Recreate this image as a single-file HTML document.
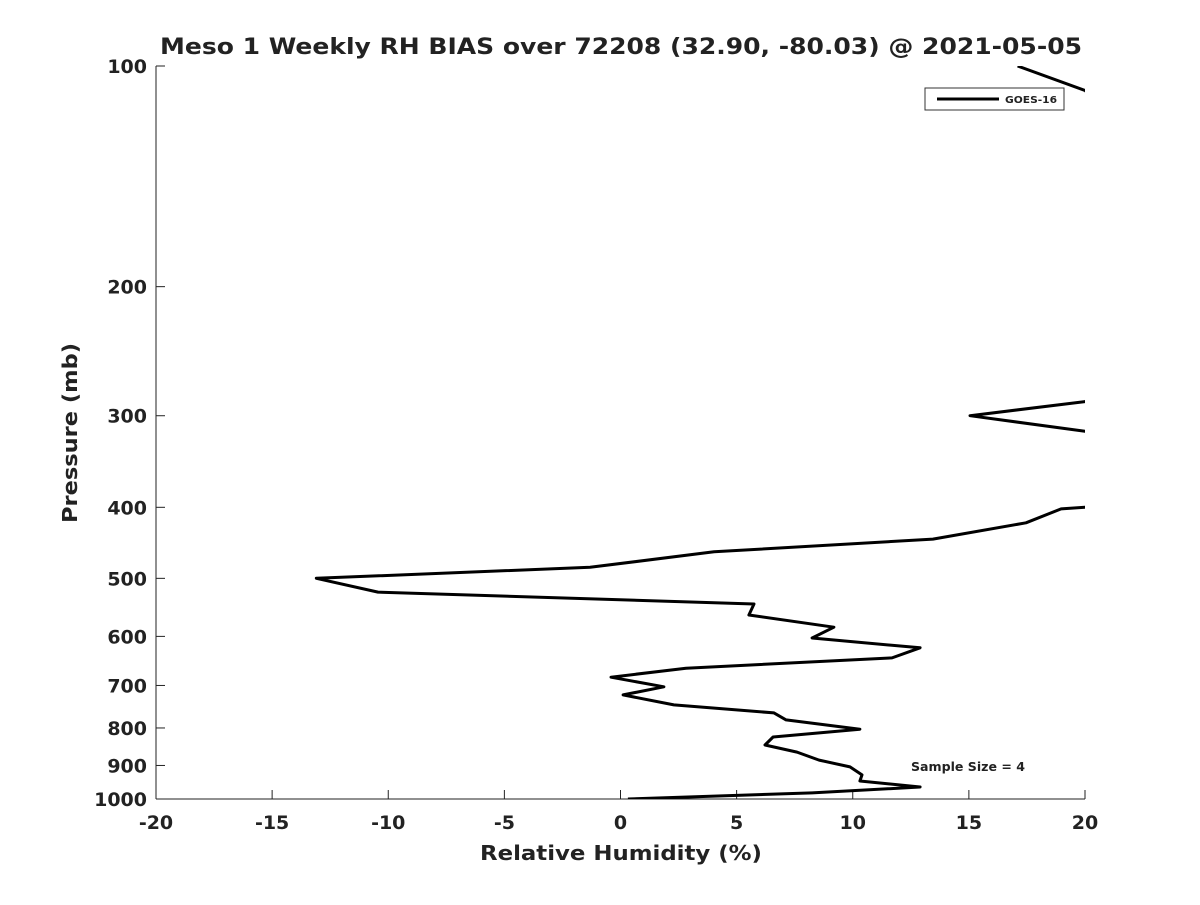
<!DOCTYPE html>
<html><head><meta charset="utf-8"><style>
body{margin:0;background:#fff}
text{font-family:"DejaVu Sans","Liberation Sans",sans-serif;font-weight:bold;fill:#222}
</style></head><body>
<svg id="chart" width="1200" height="900" xmlns="http://www.w3.org/2000/svg">
<defs><clipPath id="clip"><rect x="156" y="66" width="929" height="733"/></clipPath></defs>
<text x="160" y="54" font-size="22" fill="#000" textLength="922" lengthAdjust="spacingAndGlyphs">Meso 1 Weekly RH BIAS over 72208 (32.90, -80.03) @ 2021-05-05</text>
<g id="axes"></g>
<path id="series" clip-path="url(#clip)" fill="none" stroke="#000" stroke-width="3" stroke-linejoin="round"/>
<text transform="translate(77,523) rotate(-90)" font-size="20" textLength="180" lengthAdjust="spacingAndGlyphs">Pressure (mb)</text>
<text x="480" y="860" font-size="20" textLength="282" lengthAdjust="spacingAndGlyphs">Relative Humidity (%)</text>
<g>
<rect x="925" y="88" width="139" height="22" fill="#fff" stroke="#333" stroke-width="1"/>
<line x1="937" y1="99" x2="999" y2="99" stroke="#000" stroke-width="3"/>
<text x="1005" y="103" font-size="10" fill="#000" textLength="52" lengthAdjust="spacingAndGlyphs">GOES-16</text>
</g>
<text x="911" y="771" font-size="12" fill="#000" textLength="114" lengthAdjust="spacingAndGlyphs">Sample Size = 4</text>
</svg>
<script>
const xTicks=[-20,-15,-10,-5,0,5,10,15,20];
const yTicks=[100,200,300,400,500,600,700,800,900,1000];
const rhBias=[17.1,20,30,20,15.05,20,30,20,18.97,17.46,13.45,4.03,-1.31,-13.1,-10.44,5.75,5.53,9.19,8.25,12.9,11.69,2.82,-0.41,1.87,0.11,2.3,6.61,7.13,10.31,6.57,6.22,7.6,8.55,9.88,10.4,10.31,12.9,8.25,0.32];
const pressure=[100,108,200,287,300,315,360,400,402,420,442,460,483,500,522,542,561,583,603,622,642,663,682,703,721,744,763,780,803,823,844,863,885,904,927,945,963,981,1000];
const L=156,R=1085,T=66,B=799;
function xs(v){return L+(v+20)/40*(R-L);}
function ys(p){return T+Math.log10(p/100)*(B-T);}
const NS="http://www.w3.org/2000/svg";
const ax=document.getElementById('axes');
function mk(t,a){const e=document.createElementNS(NS,t);for(const k in a)e.setAttribute(k,a[k]);ax.appendChild(e);return e;}
let e=mk('line',{x1:L,y1:T,x2:L,y2:B,stroke:'#222','stroke-width':1});


e=mk('line',{x1:L,y1:B,x2:R,y2:B,stroke:'#222','stroke-width':1});


xTicks.forEach(v=>{
 const t=mk('line',{x1:xs(v),y1:B,x2:xs(v),y2:B-9,stroke:'#222'});
 
 
 const l=mk('text',{x:xs(v),y:B+30,'text-anchor':'middle','font-size':19});
 
 
 l.textContent=v;
});
yTicks.forEach(p=>{
 const t=mk('line',{x1:L,y1:ys(p),x2:L+9,y2:ys(p),stroke:'#222'});
 
 
 const l=mk('text',{x:L-9,y:ys(p)+7,'text-anchor':'end','font-size':19});
 
 
 l.textContent=p;
});
document.getElementById('series').setAttribute('d',rhBias.map((v,i)=>(i?'L':'M')+xs(v).toFixed(1)+','+ys(pressure[i]).toFixed(1)).join(''));
</script>
</body></html>
